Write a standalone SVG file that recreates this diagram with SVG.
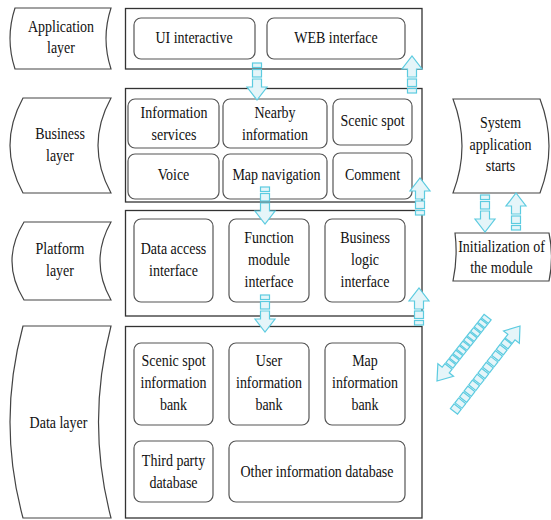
<svg xmlns="http://www.w3.org/2000/svg" xmlns:xlink="http://www.w3.org/1999/xlink" width="551" height="520" viewBox="0 0 551 520">
  <style>
    .label { fill: #ffffff; stroke: #444444; stroke-width: 1.2; }
    .layer { fill: #ffffff; stroke: #333333; stroke-width: 1.3; }
    .box { fill: #ffffff; stroke: #555555; stroke-width: 1.2; }
    .t { font-family: "Liberation Serif", "Times New Roman", serif; font-size: 17.5px; fill: #111111; text-anchor: middle; }
    .af { fill: #e5f5f9; stroke: #5ccbe0; stroke-width: 1.2; }
  </style>
  <defs>
    <!-- striped block arrow pointing down, tip at the origin -->
    <g id="sarrow">
      <rect class="af" x="-4.5" y="-37" width="9" height="4.5"/>
      <rect class="af" x="-4.5" y="-30.5" width="9" height="7.5"/>
      <path class="af" d="M-4.5,-21 H4.5 V-13 H10 L0,0 L-10,-13 H-4.5 Z"/>
    </g>
  </defs>

  <!-- layer titles -->
  <g id="label-application">
    <path class="label" d="M15,8 H111 Q101,38.5 111,69 H15 Q5,38.5 15,8 Z"/>
    <text class="t" transform="translate(61,0) scale(0.8,1)"><tspan x="0" y="32.5">Application</tspan><tspan x="0" y="53">layer</tspan></text>
  </g>
  <g id="label-business">
    <path class="label" d="M23,98 H111 Q85,145.5 111,193 H23 Q-3,145.5 23,98 Z"/>
    <text class="t" transform="translate(60,0) scale(0.8,1)"><tspan x="0" y="139.5">Business</tspan><tspan x="0" y="161.5">layer</tspan></text>
  </g>
  <g id="label-platform">
    <path class="label" d="M24,222 H111 Q89,261 111,300 H24 Q0,261 24,222 Z"/>
    <text class="t" transform="translate(60,0) scale(0.8,1)"><tspan x="0" y="254.5">Platform</tspan><tspan x="0" y="276">layer</tspan></text>
  </g>
  <g id="label-data">
    <path class="label" d="M23,326 H111 Q86,422 111,518 H23 Q-3,422 23,326 Z"/>
    <text class="t" transform="translate(58.5,0) scale(0.8,1)"><tspan x="0" y="428.5">Data layer</tspan></text>
  </g>

  <!-- layer containers -->
  <g id="layer-application">
    <rect class="layer" x="125.5" y="8.5" width="296.5" height="60.5"/>
  </g>
  <g id="layer-business">
    <rect class="layer" x="125.5" y="88.5" width="296.5" height="113.5"/>
  </g>
  <g id="layer-platform">
    <rect class="layer" x="125.5" y="210.5" width="296.5" height="105.5"/>
  </g>
  <g id="layer-data">
    <rect class="layer" x="125.5" y="326.5" width="296.5" height="191.5"/>
  </g>

  <!-- application layer modules -->
  <g id="ui-interactive">
    <rect class="box" x="134" y="18" width="121" height="41" rx="7"/>
    <text class="t" transform="translate(194,0) scale(0.8,1)"><tspan x="0" y="43.5">UI interactive</tspan></text>
  </g>
  <g id="web-interface">
    <rect class="box" x="267" y="18" width="138" height="41" rx="7"/>
    <text class="t" transform="translate(336,0) scale(0.8,1)"><tspan x="0" y="43.5">WEB interface</tspan></text>
  </g>

  <!-- business layer modules -->
  <g id="information-services">
    <rect class="box" x="128" y="99" width="91" height="49" rx="7"/>
    <text class="t" transform="translate(174,0) scale(0.8,1)"><tspan x="0" y="118.5">Information</tspan><tspan x="0" y="140">services</tspan></text>
  </g>
  <g id="nearby-information">
    <rect class="box" x="223" y="99" width="104" height="49" rx="7"/>
    <text class="t" transform="translate(275,0) scale(0.8,1)"><tspan x="0" y="118.5">Nearby</tspan><tspan x="0" y="140">information</tspan></text>
  </g>
  <g id="scenic-spot">
    <rect class="box" x="333" y="99" width="79" height="46" rx="7"/>
    <text class="t" transform="translate(372.5,0) scale(0.8,1)"><tspan x="0" y="126.5">Scenic spot</tspan></text>
  </g>
  <g id="voice">
    <rect class="box" x="128" y="154" width="91" height="45" rx="7"/>
    <text class="t" transform="translate(173.5,0) scale(0.8,1)"><tspan x="0" y="180.5">Voice</tspan></text>
  </g>
  <g id="map-navigation">
    <rect class="box" x="223" y="154" width="104" height="45" rx="7"/>
    <text class="t" transform="translate(276.5,0) scale(0.8,1)"><tspan x="0" y="180.5">Map navigation</tspan></text>
  </g>
  <g id="comment">
    <rect class="box" x="333" y="153" width="79" height="46" rx="7"/>
    <text class="t" transform="translate(372.5,0) scale(0.8,1)"><tspan x="0" y="180.5">Comment</tspan></text>
  </g>

  <!-- platform layer modules -->
  <g id="data-access-interface">
    <rect class="box" x="134" y="219" width="79" height="83" rx="7"/>
    <text class="t" transform="translate(173.5,0) scale(0.8,1)"><tspan x="0" y="254.5">Data access</tspan><tspan x="0" y="276">interface</tspan></text>
  </g>
  <g id="function-module-interface">
    <rect class="box" x="229" y="219" width="80" height="83" rx="7"/>
    <text class="t" transform="translate(269,0) scale(0.8,1)"><tspan x="0" y="243.5">Function</tspan><tspan x="0" y="265">module</tspan><tspan x="0" y="287">interface</tspan></text>
  </g>
  <g id="business-logic-interface">
    <rect class="box" x="325" y="219" width="80" height="83" rx="7"/>
    <text class="t" transform="translate(365,0) scale(0.8,1)"><tspan x="0" y="243.5">Business</tspan><tspan x="0" y="265">logic</tspan><tspan x="0" y="287">interface</tspan></text>
  </g>

  <!-- data layer modules -->
  <g id="scenic-spot-bank">
    <rect class="box" x="134" y="343" width="79" height="82" rx="7"/>
    <text class="t" transform="translate(173.5,0) scale(0.8,1)"><tspan x="0" y="366.5">Scenic spot</tspan><tspan x="0" y="388.5">information</tspan><tspan x="0" y="410">bank</tspan></text>
  </g>
  <g id="user-information-bank">
    <rect class="box" x="229" y="343" width="80" height="82" rx="7"/>
    <text class="t" transform="translate(269,0) scale(0.8,1)"><tspan x="0" y="366.5">User</tspan><tspan x="0" y="388.5">information</tspan><tspan x="0" y="410">bank</tspan></text>
  </g>
  <g id="map-information-bank">
    <rect class="box" x="325" y="343" width="80" height="82" rx="7"/>
    <text class="t" transform="translate(365,0) scale(0.8,1)"><tspan x="0" y="366.5">Map</tspan><tspan x="0" y="388.5">information</tspan><tspan x="0" y="410">bank</tspan></text>
  </g>
  <g id="third-party-database">
    <rect class="box" x="134" y="441" width="79" height="61" rx="7"/>
    <text class="t" transform="translate(173.5,0) scale(0.8,1)"><tspan x="0" y="466.5">Third party</tspan><tspan x="0" y="488.5">database</tspan></text>
  </g>
  <g id="other-information-database">
    <rect class="box" x="229" y="441" width="176" height="61" rx="7"/>
    <text class="t" transform="translate(317,0) scale(0.8,1)"><tspan x="0" y="477">Other information database</tspan></text>
  </g>

  <!-- start-up side -->
  <g id="system-start">
    <path class="label" d="M453,99 H540 Q558,146 540,193 H453 Q471,146 453,99 Z"/>
    <text class="t" transform="translate(500.5,0) scale(0.8,1)"><tspan x="0" y="128.5">System</tspan><tspan x="0" y="150">application</tspan><tspan x="0" y="171.5">starts</tspan></text>
  </g>
  <g id="module-init">
    <path class="label" d="M455,233 H549 Q554,257 549,281 H453 Q458,257 455,233 Z"/>
    <text class="t" transform="translate(501.5,0) scale(0.8,1)"><tspan x="0" y="252">Initialization of</tspan><tspan x="0" y="273.5">the module</tspan></text>
  </g>

  <!-- connectors -->
  <g id="connectors">
    <use xlink:href="#sarrow" transform="translate(257,100)"/>
    <use xlink:href="#sarrow" transform="translate(412,56) rotate(180)"/>
    <use xlink:href="#sarrow" transform="translate(265,224)"/>
    <use xlink:href="#sarrow" transform="translate(420,178) rotate(180)"/>
    <use xlink:href="#sarrow" transform="translate(265,332)"/>
    <use xlink:href="#sarrow" transform="translate(419,288) rotate(180)"/>
    <use xlink:href="#sarrow" transform="translate(485,232)"/>
    <use xlink:href="#sarrow" transform="translate(516,193) rotate(180)"/>

    <!-- diagonal link toward the data layer -->
    <g transform="translate(437,381) rotate(128.4)">
      <path class="af" d="M0,0 L-14,10 V4.5 H-18.5 V-4.5 H-14 V-10 Z"/>
      <rect class="af" x="-24.5" y="-4.5" width="4.5" height="9"/>
      <rect class="af" x="-30.2" y="-4.5" width="4.5" height="9"/>
      <rect class="af" x="-35.9" y="-4.5" width="4.5" height="9"/>
      <rect class="af" x="-41.6" y="-4.5" width="4.5" height="9"/>
      <rect class="af" x="-47.3" y="-4.5" width="4.5" height="9"/>
      <rect class="af" x="-53" y="-4.5" width="4.5" height="9"/>
      <rect class="af" x="-58.7" y="-4.5" width="4.5" height="9"/>
      <rect class="af" x="-64.4" y="-4.5" width="4.5" height="9"/>
      <rect class="af" x="-70.1" y="-4.5" width="4.5" height="9"/>
      <rect class="af" x="-75.8" y="-4.5" width="4.5" height="9"/>
      <rect class="af" x="-81.5" y="-4.5" width="4.5" height="9"/>
    </g>
    <!-- diagonal link back toward the module initialization -->
    <g transform="translate(520,326) rotate(-52.3)">
      <path class="af" d="M0,0 L-14,10 V4.5 H-18.5 V-4.5 H-14 V-10 Z"/>
      <rect class="af" x="-25.5" y="-4.5" width="6" height="9"/>
      <rect class="af" x="-33" y="-4.5" width="6" height="9"/>
      <rect class="af" x="-40.5" y="-4.5" width="6" height="9"/>
      <rect class="af" x="-48" y="-4.5" width="6" height="9"/>
      <rect class="af" x="-55.5" y="-4.5" width="6" height="9"/>
      <rect class="af" x="-63" y="-4.5" width="6" height="9"/>
      <rect class="af" x="-70.5" y="-4.5" width="6" height="9"/>
      <rect class="af" x="-78" y="-4.5" width="6" height="9"/>
      <rect class="af" x="-85.5" y="-4.5" width="6" height="9"/>
      <rect class="af" x="-93" y="-4.5" width="6" height="9"/>
      <rect class="af" x="-100.5" y="-4.5" width="6" height="9"/>
      <rect class="af" x="-108" y="-4.5" width="6" height="9"/>
    </g>
  </g>
</svg>
